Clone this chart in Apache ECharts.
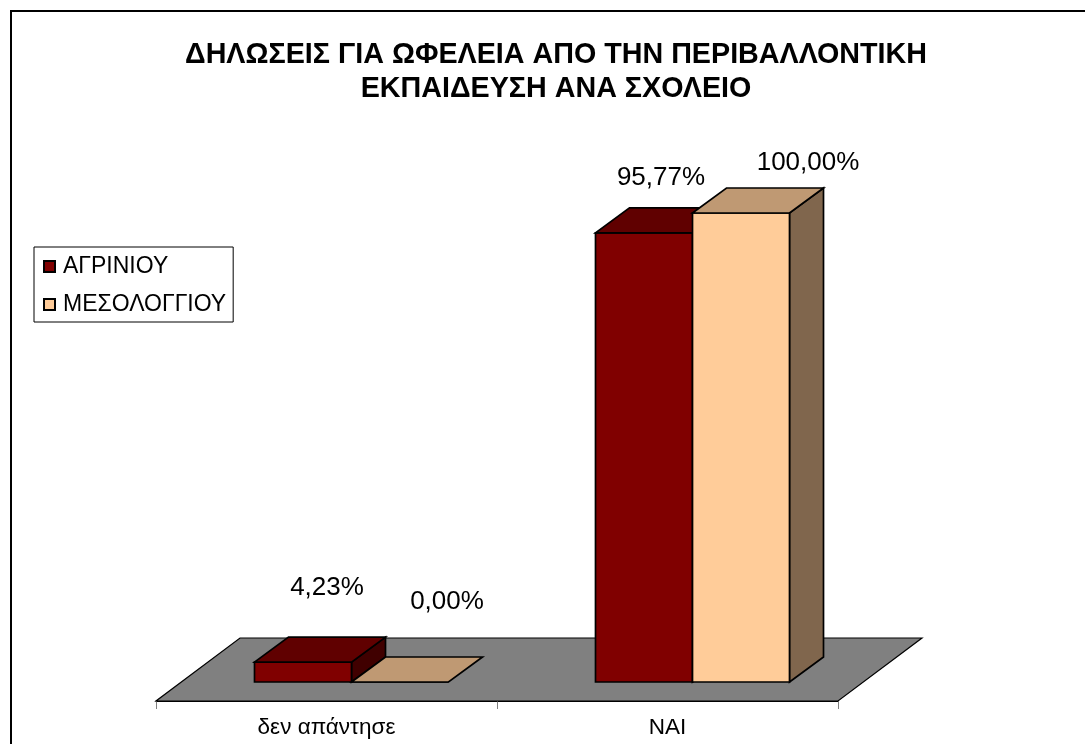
<!DOCTYPE html>
<html><head><meta charset="utf-8">
<style>html,body{margin:0;padding:0;background:#fff}#c{width:1085px;height:744px}</style>
<script src="https://cdn.jsdelivr.net/npm/echarts@6/dist/echarts.min.js"></script>
</head><body><div id="c"></div>
<script>
const categories = ['δεν απάντησε', 'ΝΑΙ'];
const agriniou = [4.23, 95.77];
const mesologgiou = [0.00, 100.00];
const seriesNames = ['ΑΓΡΙΝΙΟΥ', 'ΜΕΣΟΛΟΓΓΙΟΥ'];
const titleLines = ['ΔΗΛΩΣΕΙΣ ΓΙΑ ΩΦΕΛΕΙΑ ΑΠΟ ΤΗΝ ΠΕΡΙΒΑΛΛΟΝΤΙΚΗ', 'ΕΚΠΑΙΔΕΥΣΗ ΑΝΑ ΣΧΟΛΕΙΟ'];

const FONT = '"Liberation Sans", Arial, sans-serif';
const DX = 34, DY = -25, BAR_W = 97, SHIFT = 25;
const LABEL_OFF = [[[24, -74], [47, -80]], [[17, -55], [67, -50]]];
const line = {stroke: '#000', lineWidth: 1.7};

function fmt(v){ return v.toFixed(2).replace('.', ',') + '%'; }

function barRenderer(si, front, top, side){
  return function(params, api){
    const c = api.value(0), v = api.value(1);
    const p0 = api.coord([c, 0]), p1 = api.coord([c, v]);
    const xl = p0[0] + SHIFT - BAR_W + si * BAR_W, xr = xl + BAR_W;
    const yb = p0[1], yt = p1[1];
    const off = LABEL_OFF[c][si];
    const children = [
      {type:'polygon', shape:{points:[[xr,yt],[xr+DX,yt+DY],[xr+DX,yb+DY],[xr,yb]]}, style:Object.assign({fill:side}, line), ignore: v===0},
      {type:'rect', shape:{x:xl,y:yt,width:BAR_W,height:yb-yt}, style:Object.assign({fill:front}, line)},
      {type:'polygon', shape:{points:[[xl,yt],[xr,yt],[xr+DX,yt+DY],[xl+DX,yt+DY]]}, style:Object.assign({fill:top}, line)},
      {type:'text', x:(xl+xr)/2+off[0], y:yt+off[1], style:{text:fmt(v), font:'26px '+FONT, fill:'#000', align:'center', verticalAlign:'middle'}}
    ];
    return {type:'group', children};
  };
}

function floorRenderer(params, api){
  const cs = params.coordSys;
  const yf = cs.y + cs.height, xl = cs.x, xr = cs.x + cs.width;
  const dx = 84, dy = -63;
  return {type:'polygon', shape:{points:[[xl,yf],[xr,yf],[xr+dx,yf+dy],[xl+dx,yf+dy]]},
    style:{fill:'#808080', stroke:'#000', lineWidth:1.2}};
}

const chart = echarts.init(document.getElementById('c'), null, {renderer:'canvas'});
chart.setOption({
  animation:false,
  backgroundColor:'#fff',
  title:{
    text:titleLines.join('\n'), left:551, top:33, textAlign:'center',
    textStyle:{fontFamily:FONT, fontSize:28.7, fontWeight:'bold', color:'#000', lineHeight:34}
  },
  legend:{
    data:seriesNames, orient:'vertical', left:34, top:247,
    backgroundColor:'#fff', borderColor:'#000', borderWidth:1, padding:[8,7,6,9],
    itemWidth:11, itemHeight:11, itemGap:15, icon:'rect', selectedMode:false,
    textStyle:{fontFamily:FONT, fontSize:23, color:'#000', padding:[0,0,0,3]}
  },
  grid:{left:156, width:682, top:213, height:488},
  xAxis:{type:'category', data:categories,
    axisLine:{show:true, onZero:false, lineStyle:{color:'#000', width:1}},
    axisTick:{show:true, length:8, lineStyle:{color:'#808080', width:1}},
    axisLabel:{fontFamily:FONT, fontSize:22.5, color:'#000', margin:15},
    splitLine:{show:false}},
  yAxis:{type:'value', min:-4.05, max:100, show:false, splitLine:{show:false}},
  graphic:[{type:'rect', z:-10, shape:{x:11,y:11,width:1200,height:900}, style:{fill:'none', stroke:'#000', lineWidth:2}}],
  series:[
    {type:'custom', name:'floor', z:1, silent:true, renderItem:floorRenderer, data:[[0,0]], encode:{x:0,y:1}},
    {type:'custom', name:seriesNames[0], z:2, itemStyle:{color:'#800000', borderColor:'#000', borderWidth:1},
      renderItem:barRenderer(0,'#800000','#600000','#400000'),
      data:agriniou.map((v,i)=>[i,v]), encode:{x:0,y:1}},
    {type:'custom', name:seriesNames[1], z:3, itemStyle:{color:'#FFCC99', borderColor:'#000', borderWidth:1},
      renderItem:barRenderer(1,'#FFCC99','#BF9973','#80664D'),
      data:mesologgiou.map((v,i)=>[i,v]), encode:{x:0,y:1}}
  ]
});
</script></body></html>
